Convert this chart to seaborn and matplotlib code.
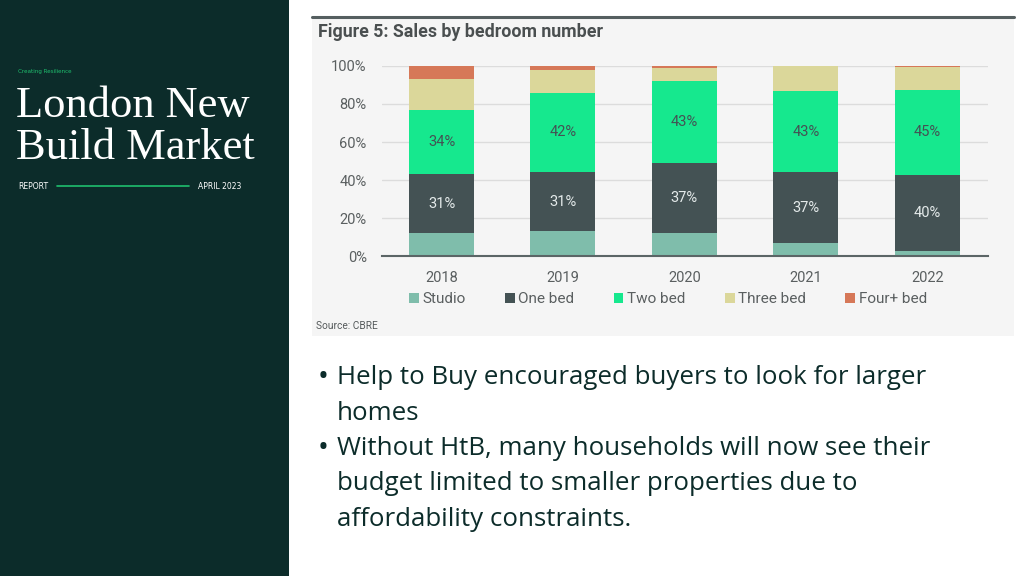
import numpy as np
import pandas as pd
import matplotlib
matplotlib.use('Agg')
import matplotlib.pyplot as plt
import seaborn as sns
from matplotlib.patches import Rectangle, Patch

# chart data
years = ['2018', '2019', '2020', '2021', '2022']
studio = [12, 13, 12, 7, 2.5]
one_bed = [31, 31, 37, 37, 40]
two_bed = [34, 42, 43, 43, 45]
three_bed = [16, 12, 7, 13, 12]
four_bed = [7, 2, 1, 0, 0.5]

categories = ['Studio', 'One bed', 'Two bed', 'Three bed', 'Four+ bed']
colors = ['#7fbdab', '#445254', '#16e88e', '#dbd79a', '#d67858']

bullets = [
    'Help to Buy encouraged buyers to look for larger\nhomes',
    'Without HtB, many households will now see their\nbudget limited to smaller properties due to\naffordability constraints.',
]

W, H = 1024, 576
DARK = '#0c2c2a'


def fx(x):
    return x / W


def fy(y):
    return 1 - y / H


sns.set_theme(style='white')
plt.rcParams['font.family'] = ['DejaVu Sans']

fig = plt.figure(figsize=(W / 100, H / 100), dpi=100)
fig.patch.set_facecolor('white')

# left dark panel
fig.patches.append(Rectangle((0, 0), fx(289), 1, transform=fig.transFigure,
                             facecolor=DARK, edgecolor='none', zorder=-2))
fig.text(fx(18), fy(72), 'Creating Resilience', color='#1fbf6e', fontsize=4.1,
         va='center', ha='left')
fig.text(fx(16), fy(106), 'London New', color='white', fontsize=32,
         family='Liberation Serif', va='center', ha='left')
fig.text(fx(16), fy(148), 'Build Market', color='white', fontsize=32,
         family='Liberation Serif', va='center', ha='left')
fig.text(fx(18), fy(186), 'REPORT', color='white', fontsize=5.5, va='center', ha='left')
fig.text(fx(198), fy(186), 'APRIL 2023', color='white', fontsize=5.5, va='center', ha='left')
fig.add_artist(plt.Line2D([fx(57), fx(189)], [fy(186), fy(186)], color='#1fbf6e',
                          lw=1.2, transform=fig.transFigure))

# chart panel background
fig.patches.append(Rectangle((fx(312), fy(336)), fx(1014 - 312), (336 - 18) / H,
                             transform=fig.transFigure, facecolor='#f5f5f5',
                             edgecolor='none', zorder=-2))
fig.add_artist(plt.Line2D([fx(312), fx(1014)], [fy(17), fy(17)], color='#555f60',
                          lw=2.2, transform=fig.transFigure))
fig.text(fx(318), fy(32), 'Figure 5: Sales by bedroom number', color='#4a4f50',
         fontsize=12.8, fontweight='semibold', family='Roboto', va='center', ha='left')
fig.text(fx(316), fy(326), 'Source: CBRE', color='#555a5b', fontsize=7.3,
         family='Roboto', va='center', ha='left')

# stacked bars
df = pd.DataFrame({'year': years, 'Studio': studio, 'One bed': one_bed,
                   'Two bed': two_bed, 'Three bed': three_bed, 'Four+ bed': four_bed})
cum = df[categories].cumsum(axis=1)

ax = fig.add_axes([fx(382), fy(256), fx(988 - 382), (256 - 66) / H])
ax.set_facecolor('none')
for cat, col in reversed(list(zip(categories, colors))):
    sns.barplot(x=df['year'], y=cum[cat], color=col, width=0.535, linewidth=0,
                saturation=1, ax=ax, zorder=3)

for i in range(len(years)):
    ax.text(i, studio[i] + one_bed[i] / 2, f'{one_bed[i]:.0f}%', ha='center', va='center',
            color='#e4eaea', fontsize=10.5, family='Roboto', zorder=4)
    ax.text(i, cum['One bed'][i] + two_bed[i] / 2, f'{two_bed[i]:.0f}%', ha='center',
            va='center', color='#445254', fontsize=10.5, family='Roboto', zorder=4)

ax.set_ylim(0, 100)
ax.set_xlim(-0.49, 4.5)
ax.set_yticks(range(0, 101, 20))
ax.set_yticklabels([f'{v}%' for v in range(0, 101, 20)])
ax.yaxis.grid(True, color='#dcdcdc', lw=1)
ax.set_axisbelow(True)
for s in ['top', 'right', 'left']:
    ax.spines[s].set_visible(False)
ax.spines['bottom'].set_color('#5b6566')
ax.spines['bottom'].set_linewidth(1.5)
ax.spines['bottom'].set_zorder(5)
ax.tick_params(axis='both', length=0, colors='#5a5f60', labelsize=10.5)
ax.tick_params(axis='y', pad=11)
ax.tick_params(axis='x', pad=11)
for lab in ax.get_xticklabels() + ax.get_yticklabels():
    lab.set_family('Roboto')
ax.set_xlabel('')
ax.set_ylabel('')

handles = [Patch(facecolor=c, edgecolor='none', label=l) for l, c in zip(categories, colors)]
leg = fig.legend(handles=handles, loc='center', bbox_to_anchor=(fx(668), fy(299)),
                 ncol=5, frameon=False, handlelength=0.65, handleheight=0.65,
                 handletextpad=0.25, columnspacing=2.55, prop={'family': 'Roboto', 'size': 11})
for t in leg.get_texts():
    t.set_color('#5a5f60')

# bullet points
y = 378
for b in bullets:
    lines = b.split('\n')
    fig.text(fx(318), fy(y), '\u2022', color=DARK, fontsize=21, family='Open Sans',
             va='center', ha='left')
    for ln in lines:
        fig.text(fx(337), fy(y), ln, color=DARK, fontsize=18.6, family='Open Sans',
                 va='center', ha='left')
        y += 35.3

fig.savefig('out.png', dpi=100)
